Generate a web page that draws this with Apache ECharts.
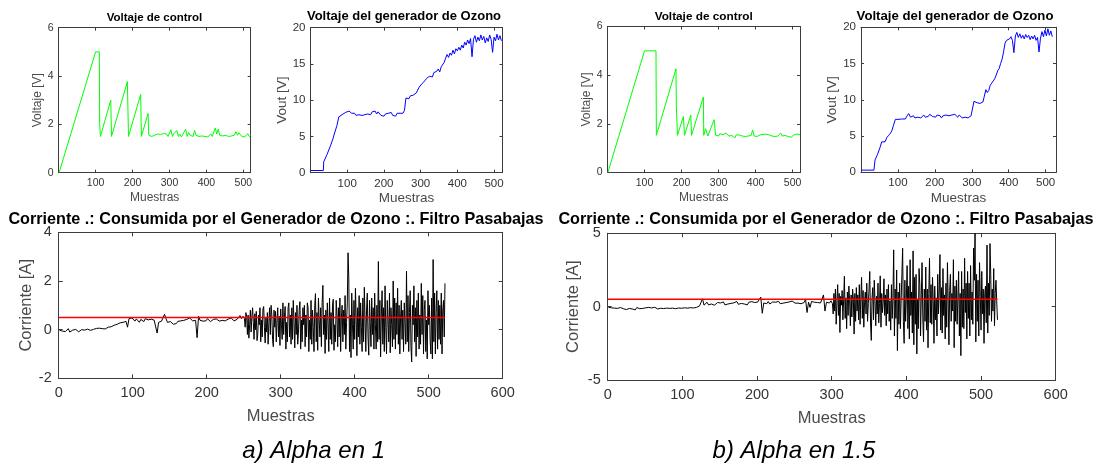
<!DOCTYPE html>
<html><head><meta charset="utf-8">
<script src="https://cdn.jsdelivr.net/npm/echarts@6/dist/echarts.min.js"></script>
<style>html,body{margin:0;padding:0;background:#fff}#c{width:1100px;height:464px}</style>
</head><body><div id="c"></div>
<script>
// ---------------- DATA ----------------
// a) Alpha en 1 : control voltage (piecewise head + noisy tail, tail every 4 samples)
const ctrlA_headX = [1,100,110,111,113,141,143,186,189,222,224,242,244];
const ctrlA_headY = [0,5,5,2.0,1.5,3.0,1.5,3.77,1.5,3.24,1.5,2.45,1.55];
const ctrlA_tailStart = 248;
const ctrlA_tail = [1.6,1.5,1.45,1.55,1.48,1.6,1.52,1.58,1.5,1.62,
1.55,1.6,1.5,1.58,1.78,1.5,1.62,1.55,1.75,1.5,
1.6,1.48,1.58,1.52,1.8,1.5,1.66,1.55,1.6,1.5,
1.75,1.55,1.6,1.5,1.55,1.52,1.58,1.5,1.55,1.48,
1.52,1.6,1.5,1.58,1.85,1.6,1.8,1.55,1.6,1.52,
1.5,1.55,1.48,1.5,1.45,1.52,1.5,1.55,1.7,1.55,
1.65,1.6,1.5,1.55,1.48,1.55,1.62,1.5,1.55];

// a) generator voltage
const voutA_headX = [1,35,36,41,45,50,55,59,62,64,68,72,77,86,95,100,105,109,112,114];
const voutA_headY = [0.3,0.3,1.5,1.7,2.5,2.7,3.8,4.0,4.8,5.2,5.4,6.5,7.7,8.0,8.3,8.4,8.5,8.6,8.2,8.0];
const voutA_tailStart = 116;
const voutA_tail = [8.0,8.2,7.9,8.1,8.0,8.2,7.9,8.1,8.0,8.2,
8.1,8.3,8.0,8.4,8.2,8.5,8.1,8.4,8.3,7.9,
8.0,7.8,8.1,7.9,8.2,8.0,8.3,7.9,8.1,7.8,
8.2,8.0,8.2,8.3,8.2,8.6,10.3,10.5,10.2,10.6,
10.4,10.7,10.5,11.0,11.4,11.8,12.0,12.3,12.1,12.7,
13.0,12.8,13.3,13.5,13.2,13.8,13.6,14.0,14.3,13.9,
14.6,14.4,15.2,15.8,16.3,15.9,16.5,16.2,16.9,16.4,
17.1,16.8,17.3,16.9,17.6,17.2,18.0,17.6,18.3,17.8,
18.5,16.0,18.4,18.9,18.0,18.7,18.2,19.0,18.3,18.8,
17.9,18.6,18.1,19.0,18.4,16.6,18.7,18.2,19.1,18.3,
18.9,18.2];

// b) Alpha en 1.5 : control voltage
const ctrlB_headX = [1,100,131,132,185,186,189,205,208,225,227,259,260,265,271,288,292];
const ctrlB_headY = [0,5,5,1.53,4.26,2.7,1.53,2.3,1.53,2.36,1.53,3.1,1.53,1.8,1.5,2.17,1.53];
const ctrlB_tailStart = 296;
const ctrlB_tail = [1.55,1.5,1.6,1.52,1.55,1.5,1.62,1.55,1.5,1.56,
1.52,1.5,1.42,1.55,1.48,1.54,1.58,1.5,1.55,1.48,
1.56,1.5,1.58,1.52,1.75,1.5,1.55,1.48,1.52,1.55,
1.5,1.56,1.5,1.58,1.52,1.55,1.6,1.5,1.55,1.48,
1.52,1.5,1.55,1.62,1.5,1.45,1.52,1.5,1.48,1.55,
1.45,1.5,1.55,1.6,1.58,1.65,1.55];

// b) generator voltage
const voutB_headX = [1,35,38,45,52,56,65,70,75,80,84,88,93,100,110,120,125,129,134];
const voutB_headY = [0.3,0.3,1.7,2.5,3.5,4.2,4.2,4.8,5.1,5.4,5.8,6.5,7.3,7.3,7.35,7.35,7.8,8.1,7.6];
const voutB_tailStart = 138;
const voutB_tail = [7.6,7.8,7.5,7.7,7.6,7.8,7.5,7.7,7.9,7.6,
7.8,7.7,8.0,8.1,7.7,7.8,7.6,7.9,7.7,7.8,
7.5,7.8,7.6,7.9,7.7,7.8,7.6,7.9,7.7,8.0,
7.8,7.6,7.9,7.7,7.5,7.7,7.6,7.8,7.5,7.7,
7.8,7.9,9.8,9.9,9.6,9.8,9.5,9.4,9.7,10.5,
11.4,11.0,11.3,12.0,12.3,12.6,12.9,13.4,14.0,14.3,
15.0,15.6,16.6,17.8,18.2,18.0,18.4,18.7,18.2,16.5,
18.8,19.3,18.6,19.1,18.5,18.9,18.4,19.0,18.6,18.9,
18.3,18.8,18.4,18.9,18.2,18.6,16.6,18.5,19.4,18.7,
19.6,18.8,19.8,18.9,19.5,18.7];

// a) current: quiet part every 2 samples from sample 1, noisy part every sample from 251
const curA_quietStart = 1;
const curA_quiet = [-0.02,0.05,-0.06,0.02,-0.08,-0.03,0.04,-0.1,-0.05,-0.02,-0.07,0.01,-0.04,-0.09,-0.03,0.0,-0.06,-0.02,-0.05,0.02,
0.0,-0.03,0.04,0.01,-0.02,0.05,0.02,0.06,0.0,0.04,0.08,0.03,0.06,0.1,0.05,
0.12,0.08,0.18,0.15,0.22,0.19,0.28,0.24,0.3,0.22,0.34,
0.1,0.45,0.38,0.48,
0.4,0.35,0.44,0.36,0.3,0.42,0.38,0.33,0.45,0.37,0.4,0.32,0.43,0.36,0.39,0.34,
-0.14,
0.3,0.38,0.35,0.42,
0.63,
0.45,0.3,0.26,0.33,0.28,0.22,0.3,0.25,0.34,0.29,0.36,0.3,0.38,0.32,0.42,0.35,0.48,0.4,0.36,0.44,0.38,
-0.33,
0.55,
0.38,0.42,0.35,0.4,0.36,0.45,0.38,0.33,0.4,0.42,0.37,0.44,0.39,0.35,0.41,0.38,0.46,0.36,0.4,0.43,0.37,0.48,0.4,0.36,0.44,0.42,0.5,
0.58,0.45,0.55];
const curA_noisyStart = 251;
const curA_noisy = [0.45,0.1,0.7,0.55,-0.2,0.6,-0.35,0.2,0.8,-0.1,0.5,0.9,0.3,-0.4,0.65,0.0,
0.75,-0.45,-0.2,0.6,0.2,0.9,-0.5,0.4,-0.3,0.85,0.95,0.1,-0.55,0.5,-0.1,0.7,
-0.6,0.3,0.9,-0.2,1.0,0.6,-0.4,-0.7,0.8,0.1,0.75,-0.5,0.4,0.9,-0.3,0.55,
-0.65,0.85,0.2,-0.4,1.1,-0.2,0.5,0.95,-0.8,0.3,-0.5,0.9,1.1,-0.3,0.6,-0.6,
0.9,-0.4,1.2,0.3,-0.75,0.7,-0.2,1.0,-0.6,-0.1,0.8,1.15,-0.8,0.4,-0.5,0.9,
0.2,1.0,-0.7,0.6,-0.3,1.1,0.9,-0.9,0.4,-0.4,1.2,-0.6,0.8,0.1,-0.9,1.0,
1.48,-0.5,0.7,-0.85,1.3,0.4,-0.3,0.9,-0.7,1.1,1.82,-0.2,0.6,-0.98,0.8,-0.4,
1.1,0.3,-0.9,1.3,-0.4,0.7,-0.6,1.0,1.25,-0.85,0.2,-0.5,1.2,0.6,-0.7,0.9,
-0.3,1.3,-0.9,0.5,1.0,-0.5,0.8,-0.2,1.4,-0.8,0.3,1.1,3.16,2.16,-0.9,0.6,
-1.15,1.5,0.2,-0.8,1.2,-0.4,1.7,0.5,-1.07,0.9,-0.3,1.4,-0.6,1.1,0.1,-0.9,
1.3,-0.5,1.74,0.4,-0.9,0.8,1.5,-0.3,-1.05,1.2,0.3,-0.7,1.3,-0.2,0.9,-0.8,
1.5,0.2,-0.8,1.0,-0.5,2.8,-0.4,1.2,-1.12,0.6,1.6,-0.6,0.9,-0.9,1.8,0.1,
-1.0,1.2,0.4,-0.5,1.5,-0.95,0.9,0.2,-0.7,2.0,-0.4,1.3,-0.8,1.1,-0.2,1.7,
-0.6,1.0,-1.0,0.5,1.2,-0.4,0.8,-0.9,1.1,0.3,-0.6,2.4,-0.5,1.4,-0.9,0.7,
1.6,-0.7,-1.33,1.0,0.2,1.8,-0.5,0.9,-1.1,1.2,-0.3,1.5,-0.8,0.6,-0.6,1.9,
-0.2,1.4,-1.0,0.8,1.2,-0.9,0.4,-1.2,1.6,0.2,1.0,-0.5,-1.0,1.3,-1.2,2.88,
-0.5,1.5,-1.0,0.7,1.6,-0.8,1.2,-0.4,1.0,-0.6,1.5,-1.0,0.8,1.2,-0.3,1.9];

// b) current: quiet part every 2 samples from sample 1, noisy part every sample from 301
const curB_quietStart = 1;
const curB_quiet = [-0.05,-0.15,-0.08,-0.2,-0.1,-0.02,-0.12,-0.18,-0.06,-0.1,-0.14,-0.04,-0.2,-0.08,-0.12,-0.05,-0.16,-0.1,-0.22,-0.06,
-0.1,-0.14,-0.03,-0.12,-0.18,-0.08,-0.1,-0.05,-0.15,-0.09,-0.12,-0.04,-0.1,-0.16,-0.07,-0.11,-0.02,-0.13,-0.08,-0.1,
-0.06,-0.12,-0.04,-0.1,-0.08,-0.14,-0.02,-0.09,-0.05,-0.11,-0.03,-0.08,-0.06,-0.1,-0.01,-0.07,-0.04,-0.09,0.0,-0.05,-0.02,
0.05,-0.05,0.54,0.1,
0.2,0.3,0.12,0.25,0.18,0.3,0.1,0.22,0.28,0.15,0.25,0.2,0.32,0.12,0.24,0.18,0.3,0.22,0.14,0.26,0.2,0.35,0.16,0.28,0.22,0.3,0.18,0.25,0.12,0.3,0.2,0.34,0.22,0.28,0.16,0.32,0.24,
0.65,-0.45,
0.25,0.3,0.2,0.35,0.18,0.28,0.32,0.22,0.3,0.26,
0.36,0.2,0.3,0.24,0.34,0.28,0.22,0.32,0.26,0.38,
0.3,0.24,0.3,0.24,0.36,0.2,0.3,0.28,0.5,-0.4,
0.3,-0.05,0.35,0.24,0.3,0.32,0.28,0.36,0.25,0.34,
0.8,-0.3,
0.3,0.35,0.25,0.4];
const curB_noisyStart = 301;
const curB_noisy = [0.2,-0.5,0.9,-0.3,1.2,-1.2,0.4,1.5,-0.6,0.9,-1.76,0.7,0.1,1.1,-0.9,0.5,
2.07,-0.8,0.6,-1.5,1.0,-0.6,1.4,0.4,-1.3,0.8,-0.7,1.2,0.5,-1.87,0.9,-1.0,
1.3,-0.3,0.8,-0.9,1.5,-1.2,0.6,2.0,-0.8,1.1,-1.4,0.3,1.0,-0.5,1.6,-1.0,
0.2,1.2,2.4,-1.1,-2.3,0.6,1.3,-0.9,1.8,0.4,-1.3,0.7,-0.5,1.6,-1.1,0.2,
2.1,-1.4,0.9,-0.4,0.3,1.9,-0.6,0.8,-1.3,1.2,-0.5,1.5,-1.0,0.4,-1.6,1.5,
-0.8,0.6,3.87,-2.0,1.2,-0.8,2.5,-3.0,1.0,-1.2,1.6,-1.5,0.4,2.2,3.98,-1.0,
-2.5,1.8,-1.0,0.6,2.8,-1.5,1.4,-2.2,3.2,-0.6,1.0,-1.8,3.8,-2.6,2.0,-1.2,
2.2,-3.22,0.5,-1.5,2.6,1.5,-2.0,0.8,3.0,-0.7,-2.4,1.2,-1.0,2.7,-1.6,1.2,
-2.8,0.9,3.3,-1.1,1.5,-1.2,2.0,0.4,-2.5,1.4,-0.9,0.6,-2.0,2.2,-0.5,1.0,
3.55,-1.6,1.3,-1.8,2.6,-0.6,0.8,-2.2,1.6,-1.4,3.0,0.5,-2.6,1.1,2.2,-1.0,
0.9,-0.3,3.2,-2.8,1.4,-1.0,1.8,-1.2,0.6,2.4,-2.0,0.9,-3.34,2.4,-1.4,1.2,
-1.5,3.3,-0.4,1.6,-2.2,2.4,-0.8,1.6,-2.0,2.8,-0.9,1.0,-1.2,4.0,1.8,5.0,
-2.4,2.2,-1.0,1.8,-2.0,3.0,0.7,-1.6,2.4,-0.5,1.2,-2.5,0.9,1.4,-1.1,4.2,
-1.8,1.6,-0.6,4.3,2.2,-1.0,1.2,-0.3,2.6,-1.3,0.9,1.8,0.4,-0.9];

// red reference level (filter output mean) and its sample span
const refLevelA = 0.5, refLevelB = 0.5;
const refSpan = [0, 522];

// texts
const titleCtrl = 'Voltaje de control';
const titleVout = 'Voltaje del generador de Ozono';
const titleCur = 'Corriente .: Consumida por el Generador de Ozono :. Filtro Pasabajas';
const captions = ['a) Alpha en 1', 'b) Alpha en 1.5'];

// ---------------- BUILD ----------------
function pairs(xs, ys){ return xs.map((x,i)=>[x, ys[i]]); }
function tail(start, step, ys){ return ys.map((y,i)=>[start + step*i, y]); }

const FONT = '"Liberation Sans", Arial, Helvetica, sans-serif';
const AX = '#3c3c3c', LAB = '#333333', NAME = '#4a4a4a';

const panels = [
  {grid:{left:58.7,top:27.7,width:192,height:145}, x:[0,520,100], y:[0,6,2], lab:10.5, ns:12, tick:3, xname:'Muestras', yname:'Voltaje [V]', xgap:19, ygap:10, hide0:true, lm:5},
  {grid:{left:310.5,top:27.7,width:192,height:145}, x:[0,523,100], y:[0,20,5], lab:11.5, ns:13.5, tick:3, xname:'Muestras', yname:'Vout [V]', xgap:19, ygap:20.5, hide0:true, lm:5},
  {grid:{left:607.5,top:26.5,width:192.5,height:146}, x:[0,520,100], y:[0,6,2], lab:10.5, ns:12, tick:3, xname:'Muestras', yname:'Voltaje [V]', xgap:19, ygap:9, hide0:true, lm:5},
  {grid:{left:861,top:27.3,width:195,height:145}, x:[0,528,100], y:[0,20,5], lab:11.5, ns:13.5, tick:3, xname:'Muestras', yname:'Vout [V]', xgap:19, ygap:20, hide0:true, lm:5},
  {grid:{left:58.7,top:232.3,width:444,height:146}, x:[0,600,100], y:[-2,4,2], lab:14.5, ns:16.5, tick:4, xname:'Muestras', yname:'Corriente [A]', xgap:30, ygap:23, hide0:false, lm:7},
  {grid:{left:607.7,top:233.3,width:448,height:146.7}, x:[0,600,100], y:[-5,5,5], lab:14.5, ns:16.5, tick:4, xname:'Muestras', yname:'Corriente [A]', xgap:30, ygap:25.5, hide0:false, lm:7}
];

const grid = [], xAxis = [], yAxis = [];
panels.forEach((p, i) => {
  grid.push(Object.assign({show:false, containLabel:false}, p.grid));
  const line = {show:true, onZero:false, lineStyle:{color:AX, width:1}};
  const tick = {show:true, inside:true, length:p.tick, lineStyle:{color:AX, width:1}};
  const xint = p.x[2];
  xAxis.push({type:'value', gridIndex:i, position:'bottom', min:p.x[0], max:p.x[1], interval:xint,
    axisLine:line, axisTick:tick, splitLine:{show:false},
    axisLabel:{fontFamily:FONT, fontSize:p.lab, color:LAB, margin:p.lm,
      formatter:v => (v % xint === 0 && !(p.hide0 && v === 0)) ? String(v) : ''},
    name:p.xname, nameLocation:'middle', nameGap:p.xgap,
    nameTextStyle:{fontFamily:FONT, fontSize:p.ns, color:NAME}});
  xAxis.push({type:'value', gridIndex:i, position:'top', min:p.x[0], max:p.x[1], interval:xint,
    axisLine:line, axisTick:tick, splitLine:{show:false}, axisLabel:{show:false}});
  const yint = p.y[2];
  yAxis.push({type:'value', gridIndex:i, position:'left', min:p.y[0], max:p.y[1], interval:yint,
    axisLine:line, axisTick:tick, splitLine:{show:false},
    axisLabel:{fontFamily:FONT, fontSize:p.lab, color:LAB, margin:p.lm},
    name:p.yname, nameLocation:'middle', nameGap:p.ygap,
    nameTextStyle:{fontFamily:FONT, fontSize:p.ns, color:NAME}});
  yAxis.push({type:'value', gridIndex:i, position:'right', min:p.y[0], max:p.y[1], interval:yint,
    axisLine:line, axisTick:tick, splitLine:{show:false}, axisLabel:{show:false}});
});

function lineSeries(gi, data, color, width){
  return {type:'line', xAxisIndex:2*gi, yAxisIndex:2*gi, data:data, showSymbol:false, symbol:'none',
    lineStyle:{color:color, width:width}, animation:false, silent:true, clip:true, sampling:null};
}

const curAData = tail(curA_quietStart, 2, curA_quiet).concat(tail(curA_noisyStart, 1, curA_noisy));
const curBData = tail(curB_quietStart, 2, curB_quiet).concat(tail(curB_noisyStart, 1, curB_noisy));

const series = [
  lineSeries(0, pairs(ctrlA_headX, ctrlA_headY).concat(tail(ctrlA_tailStart, 4, ctrlA_tail)), '#00ff00', 1),
  lineSeries(1, pairs(voutA_headX, voutA_headY).concat(tail(voutA_tailStart, 4, voutA_tail)), '#0000ff', 1),
  lineSeries(2, pairs(ctrlB_headX, ctrlB_headY).concat(tail(ctrlB_tailStart, 4, ctrlB_tail)), '#00ff00', 1),
  lineSeries(3, pairs(voutB_headX, voutB_headY).concat(tail(voutB_tailStart, 4, voutB_tail)), '#0000ff', 1),
  lineSeries(4, curAData, '#000000', 1),
  lineSeries(4, [[refSpan[0], refLevelA], [refSpan[1], refLevelA]], '#ff0000', 1.6),
  lineSeries(5, curBData, '#000000', 1),
  lineSeries(5, [[refSpan[0], refLevelB], [refSpan[1], refLevelB]], '#ff0000', 1.6)
];

function txt(x, y, text, size, bold, italic){
  return {type:'text', x:x, y:y, silent:true, z:100,
    style:{text:text, fill:'#000', align:'center', verticalAlign:'middle',
      font:(italic?'italic ':'') + (bold?'bold ':'') + size + 'px ' + FONT}};
}

const graphic = [
  txt(154.5, 18.3, titleCtrl, 11.5, true),
  txt(404, 16.3, titleVout, 13, true),
  txt(703.7, 16.3, titleCtrl, 11.8, true),
  txt(955, 16, titleVout, 13.2, true),
  txt(276, 219.3, titleCur, 16.2, true),
  txt(826, 220, titleCur, 16.2, true),
  txt(313.7, 451, captions[0], 24, false, true),
  txt(794, 451, captions[1], 24, false, true)
];

const chart = echarts.init(document.getElementById('c'), null, {renderer:'canvas', width:1100, height:464});
chart.setOption({animation:false, backgroundColor:'#ffffff', grid, xAxis, yAxis, series, graphic});
</script>
</body></html>
